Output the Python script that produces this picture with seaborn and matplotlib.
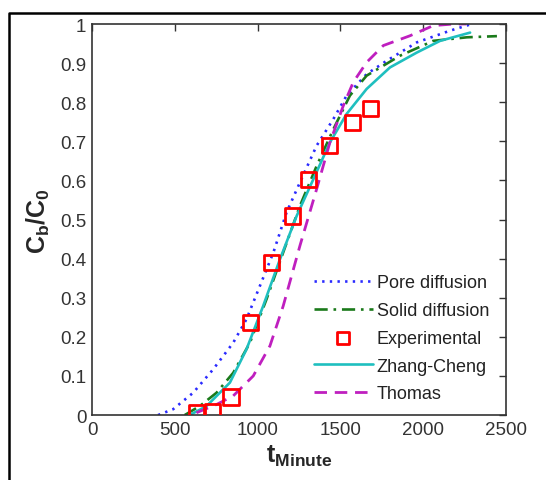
import matplotlib
matplotlib.use("Agg")
import matplotlib.pyplot as plt
from matplotlib.lines import Line2D
import seaborn as sns

exp_t = [631, 726, 839, 958, 1085, 1210, 1310, 1437, 1575, 1683]
exp_c = [0.006, 0.010, 0.046, 0.236, 0.391, 0.509, 0.603, 0.690, 0.748, 0.784]

pore_t = [399, 490, 611, 732, 853, 933, 1014, 1095, 1175, 1256, 1357, 1458,
          1538, 1659, 1780, 1962, 2163, 2294]
pore_c = [0.0, 0.015, 0.057, 0.117, 0.185, 0.245, 0.33, 0.415, 0.518, 0.595,
          0.689, 0.757, 0.817, 0.872, 0.906, 0.953, 0.983, 1.0]

solid_t = [560, 651, 752, 853, 954, 1054, 1155, 1256, 1357, 1458, 1558, 1659,
           1861, 2062, 2264, 2446]
solid_c = [0.0, 0.023, 0.057, 0.108, 0.185, 0.296, 0.416, 0.535, 0.637, 0.731,
           0.817, 0.868, 0.919, 0.957, 0.966, 0.969]

zc_t = [590, 692, 833, 933, 1034, 1135, 1236, 1337, 1437, 1538, 1659, 1800,
        1962, 2103, 2284]
zc_c = [0.0, 0.023, 0.083, 0.168, 0.279, 0.398, 0.509, 0.603, 0.697, 0.77,
        0.834, 0.889, 0.927, 0.957, 0.978]

thomas_t = [631, 752, 853, 974, 1075, 1155, 1256, 1357, 1437, 1518, 1578,
            1659, 1760, 1921, 2062, 2184, 2260]
thomas_c = [0.006, 0.027, 0.049, 0.10, 0.177, 0.279, 0.433, 0.578, 0.697,
            0.791, 0.851, 0.902, 0.945, 0.97, 0.996, 1.0, 1.0]

sns.set_style("white")
plt.rcParams['font.family'] = ['Liberation Sans', 'DejaVu Sans']
plt.rcParams['mathtext.fontset'] = 'custom'
plt.rcParams['mathtext.rm'] = 'Liberation Sans'
plt.rcParams['mathtext.it'] = 'Liberation Sans'
plt.rcParams['mathtext.bf'] = 'Liberation Sans:bold'

fig = plt.figure(figsize=(5.46, 4.81), dpi=100)
ax = fig.add_axes([0.1685, 0.135, 0.758, 0.813])

sns.lineplot(x=pore_t, y=pore_c, ax=ax, color='#2a2aff', lw=1.9,
             linestyle=(0, (0.9, 2.0)), label='Pore diffusion')
sns.lineplot(x=solid_t, y=solid_c, ax=ax, color='#1a7a1a', lw=1.9,
             linestyle=(0, (5, 2.2, 1, 2.2)), label='Solid diffusion')
sns.scatterplot(x=exp_t, y=exp_c, ax=ax, marker='s', s=120,
                facecolor='none', edgecolor='red', linewidth=2,
                label='Experimental', zorder=5)
sns.lineplot(x=zc_t, y=zc_c, ax=ax, color='#1fbfbf', lw=1.9,
             label='Zhang-Cheng')
sns.lineplot(x=thomas_t, y=thomas_c, ax=ax, color='#bf1fbf', lw=2.0,
             linestyle=(0, (4.5, 2.8)), label='Thomas')

ax.set_xlim(0, 2500)
ax.set_ylim(0, 1)
ax.set_xticks([0, 500, 1000, 1500, 2000, 2500])
ax.set_yticks([i / 10 for i in range(11)])
ax.set_yticklabels(['0', '0.1', '0.2', '0.3', '0.4', '0.5', '0.6', '0.7',
                    '0.8', '0.9', '1'])
ax.tick_params(direction='in', length=5, width=1, top=True, right=True,
               labelsize=13.5, colors='#333333', pad=4)
for sp in ax.spines.values():
    sp.set_color('#333333')
    sp.set_linewidth(1.2)

ax.set_xlabel(r'$\mathbf{t_{Minute}}$', fontsize=18, labelpad=4)
ax.set_ylabel(r'$\mathbf{C_b/C_0}$', fontsize=18, labelpad=6)

leg = ax.legend(loc='lower right', frameon=False, fontsize=13,
                handlelength=3.3, handletextpad=0.2, labelspacing=0.6,
                bbox_to_anchor=(0.99, 0.0), borderaxespad=0.3,
                markerscale=0.8)
for t in leg.get_texts():
    t.set_color('#222222')

# black frame lines of the source image
fig.add_artist(Line2D([9 / 546, 9 / 546, 1.0], [0, 1 - 14 / 481, 1 - 14 / 481],
                      transform=fig.transFigure, color='black', lw=1.8))

fig.savefig('out.png', dpi=100)
